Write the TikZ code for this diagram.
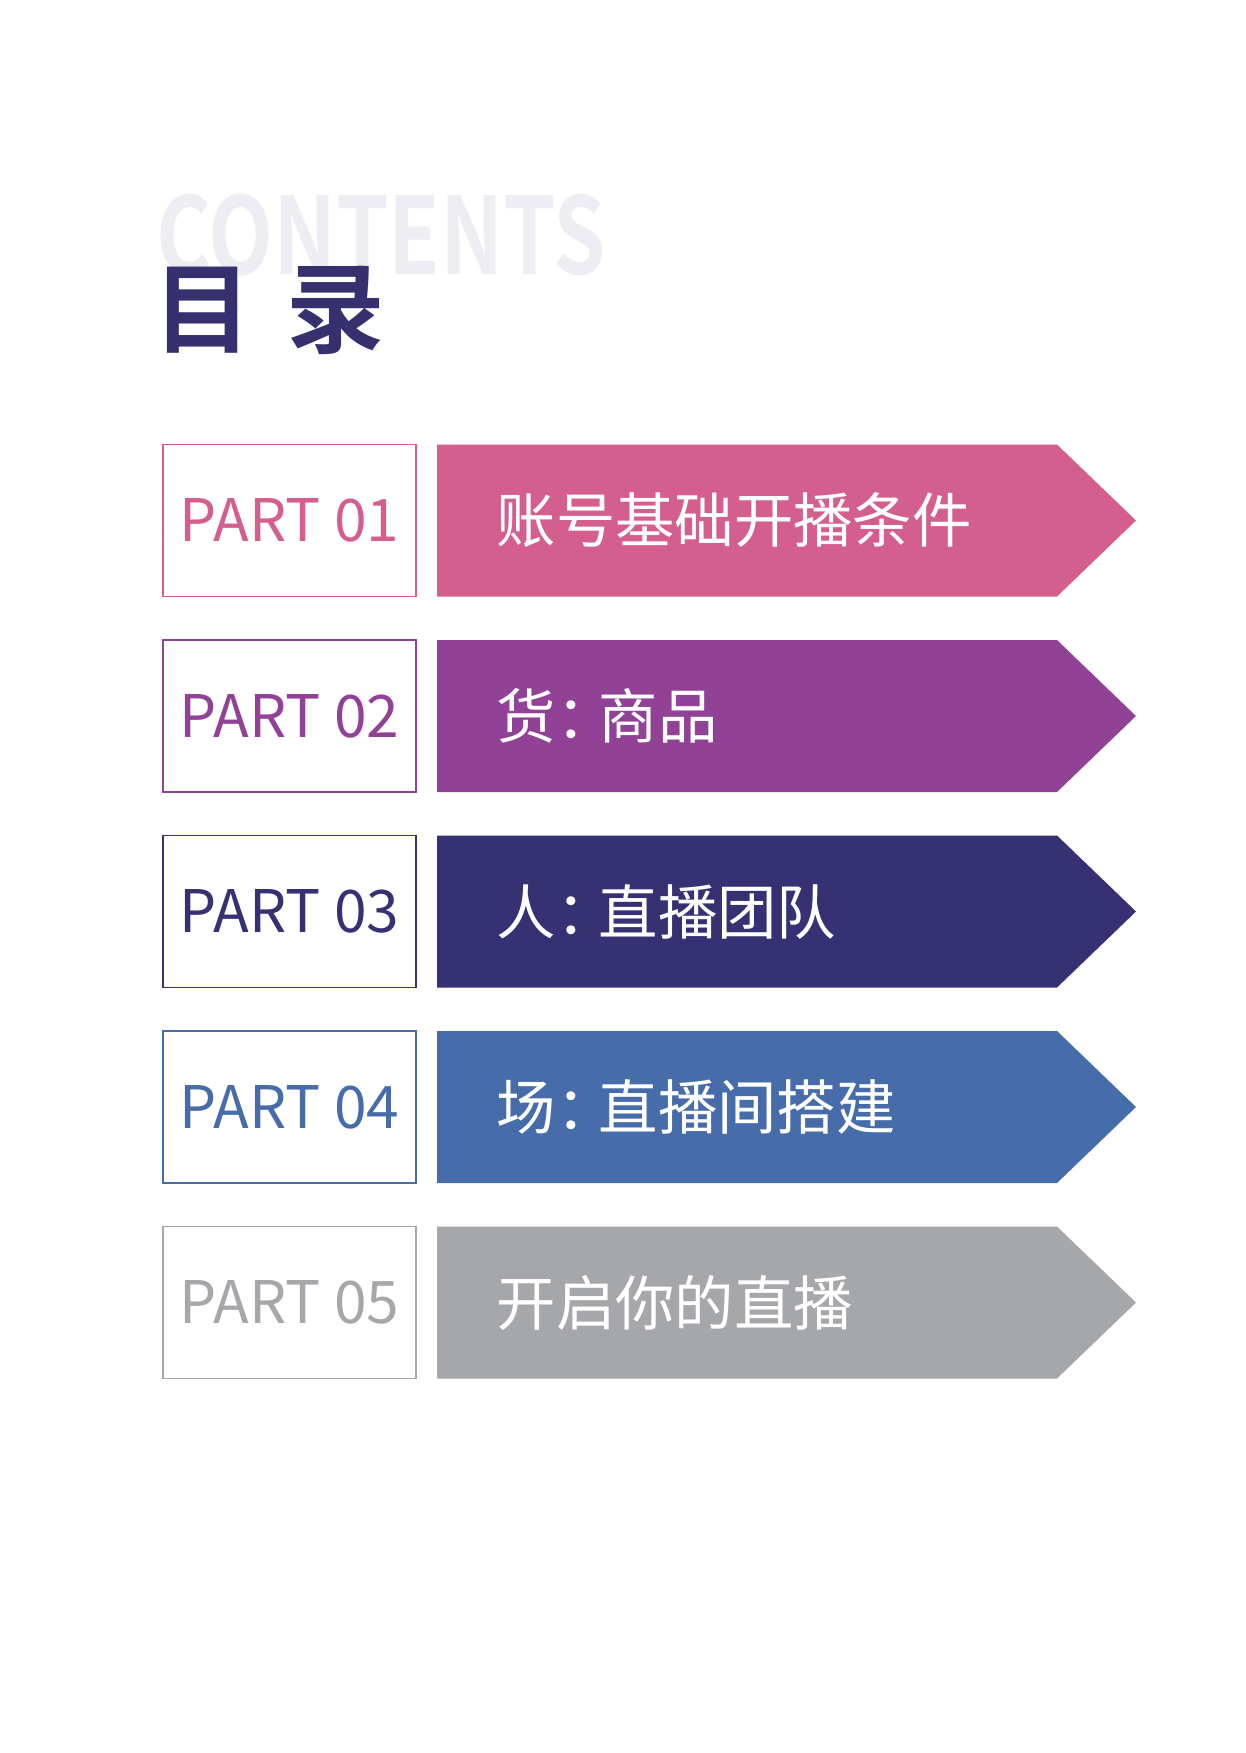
\documentclass[tikz,border=0pt]{standalone}
\usepackage{fontspec}
\setmainfont{Noto Sans CJK SC}
\newfontfamily\cjkb[BoldFont={* Bold}]{Noto Sans CJK SC}
\definecolor{c1}{HTML}{D45F8F}
\definecolor{c2}{HTML}{914196}
\definecolor{c3}{HTML}{363172}
\definecolor{c4}{HTML}{466DAA}
\definecolor{c5}{HTML}{A6A7AA}
\definecolor{ghost}{HTML}{EEEDF4}
\definecolor{title}{HTML}{37306F}
\newcommand\cc{：\hspace{-0.28em}}
\begin{document}
\begin{tikzpicture}[x=0.75pt,y=-0.75pt,
  partbox/.style={draw=#1,line width=1.2pt,fill=white},
  parttext/.style={text=#1,font=\fontsize{44}{44}\selectfont,anchor=center},
  labeltext/.style={text=white,font=\fontsize{44.5}{44.5}\selectfont,anchor=west}]
\useasboundingbox[fill=white] (0,0) rectangle (1246,1753);
\node[text=ghost,font=\cjkb\bfseries\fontsize{80}{80}\selectfont,anchor=west,xscale=0.79,inner sep=0] (ghost) at (156,235) {CONTENTS};
\node[text=title,font=\cjkb\bfseries\fontsize{74}{74}\selectfont,anchor=west,inner sep=0] (title) at (153,310) {目\hspace{0.35em}录};
\foreach \i/\c/\t in {0/c1/{账号基础开播条件},1/c2/{货\cc 商品},2/c3/{人\cc 直播团队},3/c4/{场\cc 直播间搭建},4/c5/{开启你的直播}}{
  \pgfmathsetmacro\top{444.5+195.5*\i}
  \pgfmathsetmacro\bot{\top+152}
  \pgfmathsetmacro\mid{\top+76}
  \draw[partbox=\c] (163,\top) rectangle (416,\bot);
  \node[parttext=\c] (p\i) at (289.5,\mid) {PART 0\the\numexpr\i+1\relax};
  \fill[\c] (437,\top) -- (1057,\top) -- (1136,\mid) -- (1057,\bot) -- (437,\bot) -- cycle;
  \node[labeltext] (l\i) at (492,\mid) {\t};
}
\end{tikzpicture}
\end{document}
